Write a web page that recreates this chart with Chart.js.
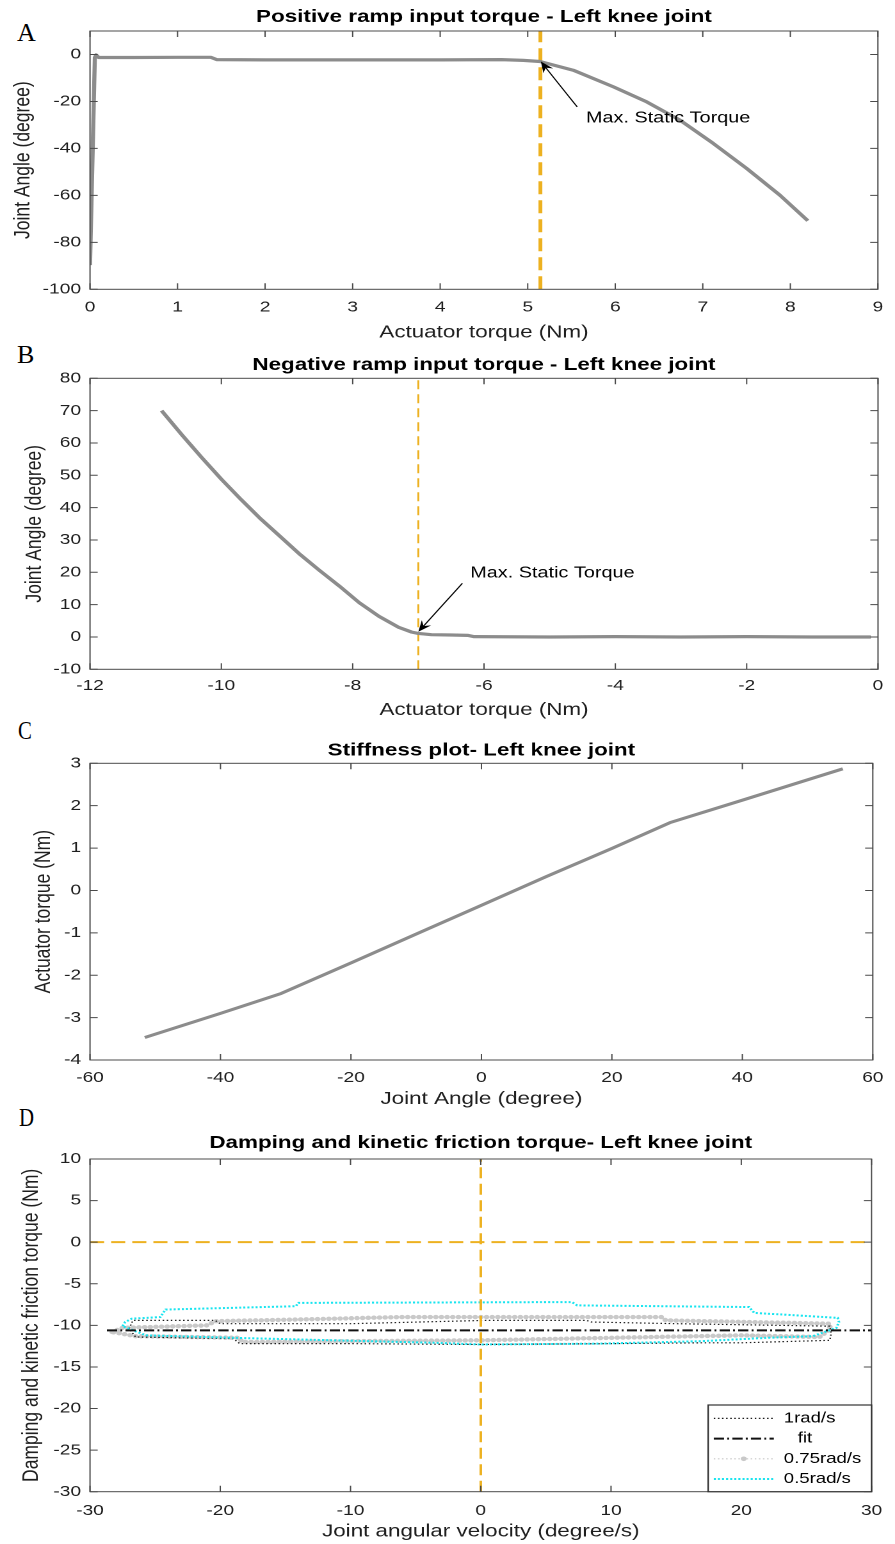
<!DOCTYPE html>
<html><head><meta charset="utf-8">
<script src="https://cdn.jsdelivr.net/npm/chart.js@4.4.1/dist/chart.umd.min.js"></script>
<style>
html,body{margin:0;padding:0;background:#fff;}
body{width:895px;height:1544px;position:relative;overflow:hidden;}
.panel{position:absolute;left:0;width:699px;transform:scaleX(1.2804);transform-origin:0 0;}
.letter{position:absolute;font-family:"Liberation Serif","Times New Roman",serif;font-size:26px;line-height:26px;color:#000;transform-origin:0 0;}
</style></head><body>
<div class="letter" style="left:17px;top:20px">A</div>
<div class="letter" style="left:17px;top:342px">B</div>
<div class="letter" style="left:18px;top:718px;transform:scaleX(0.8)">C</div>
<div class="letter" style="left:19px;top:1105px;transform:scaleX(0.8)">D</div>
<div class="panel" style="top:0;height:345px"><canvas id="cA" width="699" height="345"></canvas></div>
<div class="panel" style="top:345px;height:378px"><canvas id="cB" width="699" height="378"></canvas></div>
<div class="panel" style="top:723px;height:393px"><canvas id="cC" width="699" height="393"></canvas></div>
<div class="panel" style="top:1116px;height:428px"><canvas id="cD" width="699" height="428"></canvas></div>
<script>
// ---------- DATA ----------
// Panel A: positive ramp
const posTorque = [0.00, 0.055, 0.07, 0.10, 0.50, 1.00, 1.38, 1.45, 2.00, 3.00, 4.00, 4.70, 4.95, 5.14, 5.52, 5.98, 6.36, 6.74, 7.12, 7.50, 7.88, 8.20];
const posAngle  = [-89.7, -1.3, -0.2, -1.3, -1.3, -1.2, -1.2, -2.2, -2.3, -2.3, -2.3, -2.2, -2.5, -3.0, -6.7, -13.8, -20.2, -28.0, -37.9, -48.5, -59.9, -70.8];
const aRefX = [5.145, 5.145];
const aRefY = [-100, 10];
const aTicksX = [0,1,2,3,4,5,6,7,8,9];
const aTicksY = [-100,-80,-60,-40,-20,0];

// Panel B: negative ramp
const negTorque = [-10.91, -10.6, -10.3, -10.0, -9.7, -9.4, -9.1, -8.8, -8.5, -8.2, -7.9, -7.6, -7.3, -7.1, -7.0, -6.80, -6.50, -6.25, -6.15, -5.00, -4.00, -3.00, -2.00, -1.00, -0.11];
const negAngle  = [70.0, 62.5, 55.5, 48.8, 42.5, 36.5, 31.0, 25.5, 20.5, 15.7, 10.6, 6.4, 3.0, 1.5, 1.1, 0.7, 0.6, 0.5, 0.1, 0.0, 0.1, 0.0, 0.1, 0.0, 0.0];
const bRefX = [-7.0, -7.0];
const bRefY = [-10, 80];
const bTicksX = [-12,-10,-8,-6,-4,-2,0];
const bTicksY = [-10,0,10,20,30,40,50,60,70,80];

// Panel C: stiffness
const stiffAngle  = [-51.6, -40, -30.7, -20, -10, 0, 10, 20, 28.9, 40, 55.4];
const stiffTorque = [-3.47, -2.90, -2.43, -1.71, -1.03, -0.35, 0.33, 0.99, 1.60, 2.13, 2.87];
const cTicksX = [-60,-40,-20,0,20,40,60];
const cTicksY = [-4,-3,-2,-1,0,1,2,3];

// Panel D: damping / kinetic friction
const d1X = [-27.0, -26.7, -20.4, -20.0, -10, 0.5, 8.1, 8.5, 15, 26.8, 26.9, 26.8, 20, 16.9, 10, 0, -10, -18.5, -19.0, -26.5, -27.0];
const d1Y = [-10.4, -9.4, -9.4, -9.8, -9.8, -9.4, -9.4, -9.6, -9.8, -10.1, -11.0, -11.8, -12.1, -12.1, -12.2, -12.3, -12.2, -12.2, -11.6, -11.4, -10.4];
const dFitX = [-28.7, 30];
const dFitY = [-10.6, -10.6];
const d075X = [-28.3, -27.5, -21.0, -20.4, -14, -6, 13.9, 14.2, 26.8, 26.8, 26, 20, 10, 0, -10, -18.3, -18.6, -26.5, -28.3];
const d075Y = [-10.8, -10.3, -10.0, -9.5, -9.3, -9.0, -9.0, -9.4, -9.8, -10.5, -11.4, -11.2, -11.5, -11.8, -11.9, -12.0, -11.5, -11.3, -10.8];
const d05X = [-27.5, -27.3, -26.8, -24.6, -24.2, -14.2, -14.0, 7.0, 7.4, 20.6, 21.0, 27.4, 27.5, 27.3, 25.5, 22, 17, 9, 0, -3.5, -19, -25.7, -27.5];
const d05Y = [-10.1, -9.6, -9.2, -9.0, -8.1, -7.7, -7.3, -7.2, -7.6, -7.8, -8.5, -9.1, -9.6, -10.3, -11.3, -11.5, -11.9, -12.2, -12.3, -12.1, -11.5, -11.2, -10.1];
const dVRefX = [0, 0];
const dVRefY = [-30, 10];
const dHRefX = [-30, 30];
const dHRefY = [0, 0];
const dTicksX = [-30,-20,-10,0,10,20,30];
const dTicksY = [-30,-25,-20,-15,-10,-5,0,5,10];
const dLegend = ['1rad/s', 'fit', '0.75rad/s', '0.5rad/s'];

// ---------- STYLE ----------
const FONT = '"Liberation Sans", Arial, Helvetica, sans-serif';
Chart.defaults.font.family = FONT;
const SX = 895 / 699;
const PLOT_L = 90 / SX;
const PLOT_R_PAD = (895 - 878) / SX;
const GREY = '#8c8c8c';
const ORANGE = '#EDB120';
const AXIS = '#4a4a4a';
const TXT = '#1f1f1f';
const TICK = 6;

function pts(xs, ys) { return xs.map((x, i) => ({x: x, y: ys[i]})); }

const boxPlugin = {
  id: 'matBox',
  afterDatasetsDraw(chart) {
    const {ctx, chartArea: a, scales} = chart;
    const xs = scales.x, ys = scales.y;
    ctx.save();
    ctx.strokeStyle = AXIS; ctx.lineWidth = 1;
    ctx.beginPath();
    xs.ticks.forEach(t => { const p = xs.getPixelForValue(t.value);
      ctx.moveTo(p, a.bottom); ctx.lineTo(p, a.bottom - TICK);
      ctx.moveTo(p, a.top); ctx.lineTo(p, a.top + TICK); });
    ys.ticks.forEach(t => { const p = ys.getPixelForValue(t.value);
      ctx.moveTo(a.left, p); ctx.lineTo(a.left + TICK, p);
      ctx.moveTo(a.right, p); ctx.lineTo(a.right - TICK, p); });
    ctx.stroke();
    ctx.strokeRect(a.left, a.top, a.right - a.left, a.bottom - a.top);
    ctx.restore();
  }
};

function arrowNote(cfg) {
  return { id: 'note', afterDatasetsDraw(chart) {
    const {ctx, scales: {x, y}} = chart;
    const tx = x.getPixelForValue(cfg.tip[0]), ty = y.getPixelForValue(cfg.tip[1]);
    const sx = x.getPixelForValue(cfg.tail[0]), sy = y.getPixelForValue(cfg.tail[1]);
    const ang = Math.atan2(ty - sy, tx - sx), ca = Math.cos(ang), sa = Math.sin(ang);
    const L = 11, Wd = 4.5;
    ctx.save();
    ctx.strokeStyle = '#000'; ctx.fillStyle = '#000'; ctx.lineWidth = 1;
    ctx.beginPath(); ctx.moveTo(sx, sy); ctx.lineTo(tx - ca * L * 0.6, ty - sa * L * 0.6); ctx.stroke();
    ctx.beginPath(); ctx.moveTo(tx, ty);
    ctx.lineTo(tx - ca * L - sa * Wd, ty - sa * L + ca * Wd);
    ctx.lineTo(tx - ca * L * 0.65, ty - sa * L * 0.65);
    ctx.lineTo(tx - ca * L + sa * Wd, ty - sa * L - ca * Wd);
    ctx.closePath(); ctx.fill();
    ctx.font = '15.5px ' + FONT; ctx.textBaseline = 'middle'; ctx.textAlign = 'left';
    ctx.fillText(cfg.text, x.getPixelForValue(cfg.label[0]), y.getPixelForValue(cfg.label[1]));
    ctx.restore();
  }};
}

function makeChart(id, o) {
  return new Chart(document.getElementById(id), {
    type: 'scatter',
    data: { datasets: o.datasets },
    options: {
      responsive: false, animation: false, devicePixelRatio: 2,
      layout: { padding: { left: 0, right: PLOT_R_PAD, top: 0, bottom: 0 } },
      plugins: {
        legend: { display: false }, tooltip: { enabled: false },
        title: { display: true, text: o.title, fullSize: false, color: '#000',
          font: { size: 17.5, weight: 'bold', lineHeight: 1.2 },
          padding: { top: o.titlePad[0], bottom: o.titlePad[1] } }
      },
      elements: { point: { radius: 0 }, line: { tension: 0 } },
      scales: {
        x: { type: 'linear', min: o.xMin, max: o.xMax,
          afterBuildTicks: s => { s.ticks = o.xTicks.map(v => ({value: v})); },
          afterFit: s => { s.height = o.xH; },
          grid: { display: false, drawTicks: false }, border: { display: false },
          ticks: { padding: o.xTickPad, color: TXT, font: { size: 15 }, maxRotation: 0, autoSkip: false, callback: v => String(v) },
          title: { display: true, text: o.xTitle, color: TXT, font: { size: 17.5, lineHeight: 1.2 }, padding: { top: 0, bottom: o.xTitlePad } } },
        y: { type: 'linear', min: o.yMin, max: o.yMax,
          afterBuildTicks: s => { s.ticks = o.yTicks.map(v => ({value: v})); },
          afterFit: s => { s.width = PLOT_L; },
          grid: { display: false, drawTicks: false }, border: { display: false },
          ticks: { padding: 7, color: TXT, font: { size: 15 }, autoSkip: false, callback: v => String(v) },
          title: { display: true, text: o.yTitle, color: TXT, font: { size: 17.5, lineHeight: 1.2 }, padding: { top: o.yTitlePad, bottom: 0 } } }
      }
    },
    plugins: [boxPlugin].concat(o.plugins || [])
  });
}

// ---------- PANEL A ----------
makeChart('cA', {
  title: 'Positive ramp input torque - Left knee joint', titlePad: [6.5, 3.5],
  xMin: 0, xMax: 9, yMin: -100, yMax: 10, xTicks: aTicksX, yTicks: aTicksY,
  xH: 55.7, xTickPad: 9.2, xTitlePad: 1.8, yTitlePad: 7.5,
  xTitle: 'Actuator torque (Nm)', yTitle: 'Joint Angle (degree)',
  datasets: [
    { data: pts(posTorque, posAngle), showLine: true, borderColor: GREY, borderWidth: 3.2, borderJoinStyle: 'round', order: 0 },
    { data: pts(aRefX, aRefY), showLine: true, borderColor: ORANGE, borderWidth: 3, borderDash: [13, 6], order: 1 }
  ],
  plugins: [arrowNote({ tip: [5.15, -3.0], tail: [5.565, -22.3], label: [5.665, -27.2], text: 'Max. Static Torque' })]
});

// ---------- PANEL B ----------
makeChart('cB', {
  title: 'Negative ramp input torque - Left knee joint', titlePad: [9.5, 2.8],
  xMin: -12, xMax: 0, yMin: -10, yMax: 80, xTicks: bTicksX, yTicks: bTicksY,
  xH: 53.7, xTickPad: 7.8, xTitlePad: 2.5, yTitlePad: 16.8,
  xTitle: 'Actuator torque (Nm)', yTitle: 'Joint Angle (degree)',
  datasets: [
    { data: pts(negTorque, negAngle), showLine: true, borderColor: GREY, borderWidth: 3.2, borderJoinStyle: 'round', order: 0 },
    { data: pts(bRefX, bRefY), showLine: true, borderColor: ORANGE, borderWidth: 1.5, borderDash: [9, 5], order: 1 }
  ],
  plugins: [arrowNote({ tip: [-7.0, 1.6], tail: [-6.33, 16.6], label: [-6.21, 19.7], text: 'Max. Static Torque' })]
});

// ---------- PANEL C ----------
makeChart('cC', {
  title: 'Stiffness plot- Left knee joint', titlePad: [17.2, 2.1],
  xMin: -60, xMax: 60, yMin: -4, yMax: 3, xTicks: cTicksX, yTicks: cTicksY,
  xH: 56, xTickPad: 9, xTitlePad: 6.5, yTitlePad: 23.9,
  xTitle: 'Joint Angle (degree)', yTitle: 'Actuator torque (Nm)',
  datasets: [
    { data: pts(stiffAngle, stiffTorque), showLine: true, borderColor: GREY, borderWidth: 3, borderJoinStyle: 'round', order: 0 }
  ]
});

// ---------- PANEL D ----------
const styleD = {
  black: { borderColor: '#1a1a1a', borderWidth: 1.2, borderDash: [1.2, 2] },
  fit:   { borderColor: '#111111', borderWidth: 2, borderDash: [8, 2.5, 1.5, 2.5] },
  grey:  { borderColor: '#c9c9c9', borderWidth: 4.4, borderDash: [0, 4.4], borderCapStyle: 'round' },
  cyan:  { borderColor: '#17e4ef', borderWidth: 2, borderDash: [1.6, 1.6] }
};
const legendD = {
  id: 'legD',
  afterDraw(chart) {
    const {ctx, chartArea: a} = chart;
    const w = 127.6, h = 86.7, x0 = a.right - w, y0 = a.bottom - h;
    ctx.save();
    ctx.fillStyle = '#fff'; ctx.fillRect(x0, y0, w, h);
    ctx.strokeStyle = '#333'; ctx.lineWidth = 1.2; ctx.strokeRect(x0, y0, w, h);
    const keys = ['black', 'fit', 'grey', 'cyan'];
    ctx.font = '14.5px ' + FONT; ctx.textBaseline = 'middle'; ctx.textAlign = 'left'; ctx.fillStyle = '#000';
    keys.forEach((k, i) => {
      const yy = y0 + 13.4 + i * 20.2;
      const st = styleD[k];
      ctx.save();
      ctx.beginPath(); ctx.moveTo(x0 + 4.4, yy); ctx.lineTo(x0 + 51.3, yy);
      if (k === 'grey') {
        ctx.strokeStyle = '#c9c9c9'; ctx.lineWidth = 1.2; ctx.setLineDash([1.2, 2]); ctx.stroke();
        ctx.setLineDash([]); ctx.fillStyle = '#c9c9c9';
        ctx.beginPath(); ctx.arc(x0 + 27.8, yy, 2.3, 0, Math.PI * 2); ctx.fill();
      } else {
        ctx.strokeStyle = st.borderColor; ctx.lineWidth = st.borderWidth; ctx.setLineDash(st.borderDash); ctx.stroke();
      }
      ctx.restore();
      ctx.fillText(dLegend[i], x0 + (k === 'fit' ? 70 : 59.1), yy);
    });
    ctx.restore();
  }
};
makeChart('cD', {
  title: 'Damping and kinetic friction torque- Left knee joint', titlePad: [16.5, 5.5],
  xMin: -30, xMax: 30, yMin: -30, yMax: 10, xTicks: dTicksX, yTicks: dTicksY,
  xH: 52.3, xTickPad: 10, xTitlePad: 1.8, yTitlePad: 14.1,
  xTitle: 'Joint angular velocity (degree/s)', yTitle: 'Damping and kinetic friction torque (Nm)',
  datasets: [
    { data: pts(dVRefX, dVRefY), showLine: true, borderColor: ORANGE, borderWidth: 2, borderDash: [11, 5.5], order: 0 },
    { data: pts(dHRefX, dHRefY), showLine: true, borderColor: ORANGE, borderWidth: 2, borderDash: [11, 5.5], order: 1 },
    Object.assign({ data: pts(dFitX, dFitY), showLine: true, order: 2 }, styleD.fit),
    Object.assign({ data: pts(d05X, d05Y), showLine: true, order: 3 }, styleD.cyan),
    Object.assign({ data: pts(d1X, d1Y), showLine: true, order: 4 }, styleD.black),
    Object.assign({ data: pts(d075X, d075Y), showLine: true, order: 5 }, styleD.grey)
  ],
  plugins: [legendD]
});
</script>
</body></html>
